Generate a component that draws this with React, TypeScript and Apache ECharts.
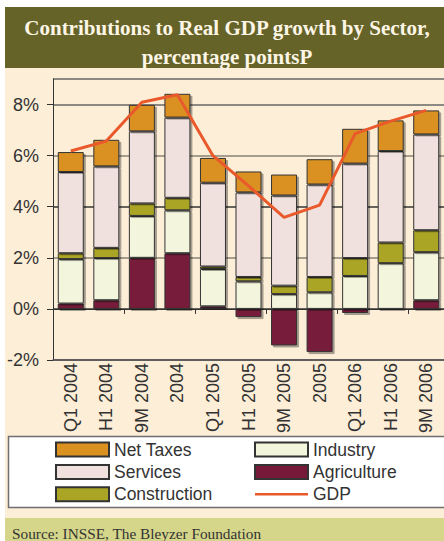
import React, { useEffect, useRef } from 'react';
import * as echarts from 'echarts';

const categories = ['Q1 2004', 'H1 2004', '9M 2004', '2004', 'Q1 2005', 'H1 2005', '9M 2005', '2005', 'Q1 2006', 'H1 2006', '9M 2006'];
const agriculture = [0.21, 0.34, 2.0, 2.18, 0.1, -0.32, -1.43, -1.69, -0.16, 0, 0.34];
const industry = [1.74, 1.65, 1.64, 1.68, 1.46, 1.08, 0.58, 0.65, 1.29, 1.79, 1.88];
const construction = [0.23, 0.4, 0.49, 0.49, 0.1, 0.17, 0.33, 0.6, 0.7, 0.81, 0.86];
const services = [3.18, 3.19, 2.82, 3.14, 3.28, 3.31, 3.53, 3.62, 3.7, 3.58, 3.75];
const netTaxes = [0.78, 1.04, 1.04, 0.93, 0.97, 0.82, 0.82, 0.99, 1.36, 1.2, 0.94];
const gdp = [6.18, 6.57, 8.09, 8.38, 6.0, 4.82, 3.58, 4.06, 6.86, 7.35, 7.77];

const titleLines = ['Contributions to Real GDP growth by Sector,', 'percentage pointsP'];
const sourceText = 'Source: INSSE, The Bleyzer Foundation';
const legendLeft = ['Net Taxes', 'Services', 'Construction'];
const legendRight = ['Industry', 'Agriculture', 'GDP'];

const SANS = '"Liberation Sans", Arial, sans-serif';
const SERIF = '"Liberation Serif", "Times New Roman", serif';

const colors: Record<string, string> = {
  'Net Taxes': '#da9120',
  Services: '#f0e1df',
  Construction: '#aba526',
  Industry: '#f3f5dc',
  Agriculture: '#771a3a',
  GDP: '#e9592b',
};

export default function App() {
  const ref = useRef<HTMLDivElement>(null);
  useEffect(() => {
    if (!ref.current) return;
    const chart = echarts.init(ref.current, undefined, { renderer: 'svg' });
    const barSeries = (name: string, data: number[]) => ({
      name,
      type: 'bar',
      stack: 'total',
      data,
      barWidth: 26,
      itemStyle: {
        color: colors[name],
        borderColor: '#333',
        borderWidth: 1,
        shadowColor: 'rgba(0,0,0,0.35)',
        shadowBlur: 1,
        shadowOffsetX: 2,
        shadowOffsetY: 2,
      },
    });
    const legendCommon = {
      orient: 'vertical',
      top: 440.5,
      padding: 0,
      icon: 'rect',
      itemWidth: 53,
      itemHeight: 14,
      itemGap: 4.4,
      selectedMode: false,
      textStyle: { fontFamily: SANS, fontSize: 17.5, color: '#333', lineHeight: 18 },
    };
    const toLegendItem = (name: string) =>
      name === 'GDP' ? { name, icon: 'path://M0,0H53V2.5H0Z' } : { name };
    chart.setOption({
      animation: false,
      backgroundColor: '#ffffff',
      graphic: [
        { type: 'rect', z: -10, shape: { x: 5, y: 68, width: 445, height: 451 }, style: { fill: '#fdeed7' } },
        { type: 'rect', z: -10, shape: { x: 5, y: 7, width: 445, height: 61 }, style: { fill: '#666328' } },
        { type: 'rect', z: -10, shape: { x: 5, y: 518, width: 445, height: 30 }, style: { fill: '#d5d68a' } },
        { type: 'rect', z: -5, shape: { x: 8.5, y: 436.5, width: 445, height: 71 }, style: { fill: '#ffffff', stroke: '#707070', lineWidth: 1.5 } },
        { type: 'text', z: 10, x: 227, y: 27.5, style: { text: titleLines[0], font: `bold 21px ${SERIF}`, fill: '#fdf6e6', align: 'center', verticalAlign: 'middle' } },
        { type: 'text', z: 10, x: 227, y: 57, style: { text: titleLines[1], font: `bold 21px ${SERIF}`, fill: '#fdf6e6', align: 'center', verticalAlign: 'middle' } },
        { type: 'text', z: 10, x: 12, y: 533.5, style: { text: sourceText, font: `15.3px ${SERIF}`, fill: '#333', align: 'left', verticalAlign: 'middle' } },
      ],
      legend: [
        { ...legendCommon, left: 55, data: legendLeft.map(toLegendItem) },
        { ...legendCommon, left: 254, data: legendRight.map(toLegendItem) },
      ],
      grid: { left: 53, top: 79, width: 393, height: 281, containLabel: false },
      xAxis: [
        {
          type: 'category',
          data: categories,
          position: 'bottom',
          axisLine: { onZero: false, lineStyle: { color: '#555', width: 1.5 } },
          axisTick: { show: false },
          axisLabel: { rotate: 90, margin: 3, fontFamily: SANS, fontSize: 18, color: '#333', interval: 0 },
        },
        {
          type: 'category',
          data: categories,
          position: 'bottom',
          axisLine: { onZero: true, lineStyle: { color: '#333', width: 1 } },
          axisTick: { show: true, length: 5, lineStyle: { color: '#333' } },
          axisLabel: { show: false },
        },
      ],
      yAxis: {
        type: 'value',
        min: -2,
        max: 9,
        interval: 2,
        axisLine: { show: true, lineStyle: { color: '#333', width: 1 } },
        axisTick: { show: true, length: 6, lineStyle: { color: '#333' } },
        axisLabel: {
          margin: 14,
          fontFamily: SANS,
          fontSize: 18,
          color: '#333',
          showMaxLabel: false,
          formatter: (v: number) => (v > 8 ? '' : `${v}%`),
        },
        splitLine: {
          show: true,
          lineStyle: { color: ['#555', '#333', '#8a8275', '#333', '#8a8275', '#666', '#666'], width: 1.5 },
        },
      },
      series: [
        barSeries('Agriculture', agriculture),
        barSeries('Industry', industry),
        barSeries('Construction', construction),
        barSeries('Services', services),
        barSeries('Net Taxes', netTaxes),
        {
          name: 'GDP',
          type: 'line',
          data: gdp,
          symbol: 'none',
          z: 5,
          lineStyle: { color: colors.GDP, width: 3 },
          itemStyle: { color: colors.GDP },
        },
      ],
    });
    return () => chart.dispose();
  }, []);
  return <div ref={ref} style={{ position: 'absolute', left: 0, top: 0, width: 444, height: 541 }} />;
}
